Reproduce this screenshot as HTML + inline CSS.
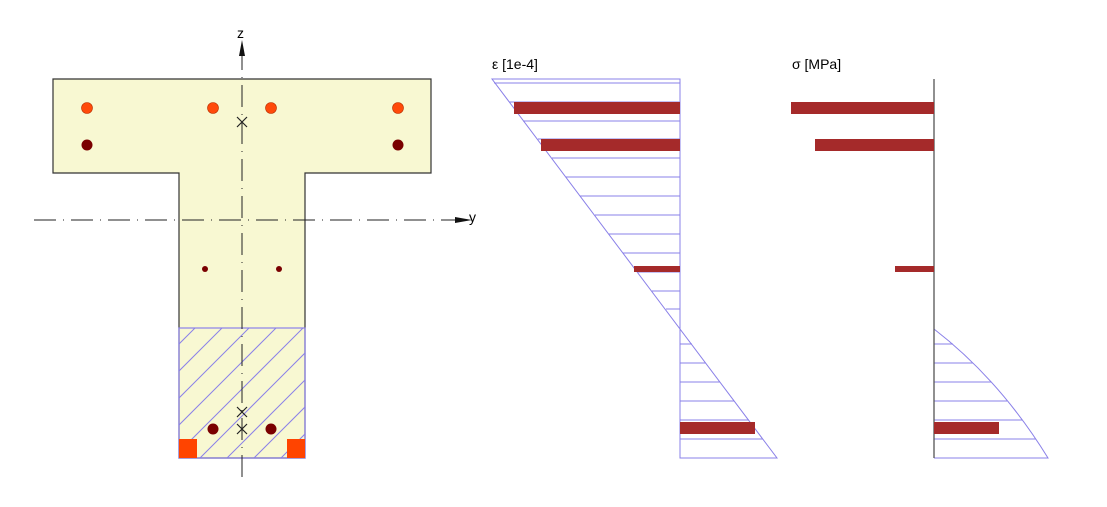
<!DOCTYPE html>
<html><head><meta charset="utf-8"><style>
html,body{margin:0;padding:0;background:#fff;}
svg{display:block;}
text{font-family:"Liberation Sans",sans-serif;}
</style></head><body>
<svg width="1107" height="507" viewBox="0 0 1107 507" xmlns="http://www.w3.org/2000/svg">
<defs><clipPath id="hc"><rect x="179" y="328" width="126" height="130"/></clipPath></defs>
<!-- section -->
<path d="M53 79 H431 V173 H305 V458 H179 V173 H53 Z" fill="#f8f8d2" stroke="#333" stroke-width="1.2"/>
<g clip-path="url(#hc)" stroke="#8a80e8" stroke-width="1">
<line x1="169" y1="327" x2="-30" y2="526"/>
<line x1="196" y1="327" x2="-3" y2="526"/>
<line x1="223" y1="327" x2="24" y2="526"/>
<line x1="250" y1="327" x2="51" y2="526"/>
<line x1="277" y1="327" x2="78" y2="526"/>
<line x1="304" y1="327" x2="105" y2="526"/>
<line x1="331" y1="327" x2="132" y2="526"/>
<line x1="358" y1="327" x2="159" y2="526"/>
<line x1="385" y1="327" x2="186" y2="526"/>
<line x1="412" y1="327" x2="213" y2="526"/>
<line x1="439" y1="327" x2="240" y2="526"/>
<line x1="466" y1="327" x2="267" y2="526"/>
</g>
<rect x="179" y="328" width="126" height="130" fill="none" stroke="#8a80e8" stroke-width="1.2"/>
<!-- axes -->
<line x1="242" y1="48" x2="242" y2="477" stroke="#222" stroke-width="1" stroke-dasharray="22,7,1,7"/>
<polygon points="242,40 239,56 245,56" fill="#111"/>
<text x="237" y="38" font-size="14">z</text>
<line x1="34" y1="220" x2="458" y2="220" stroke="#222" stroke-width="1" stroke-dasharray="22,7,1,7"/>
<polygon points="472,220 455,217 455,223" fill="#111"/>
<text x="469" y="222" font-size="14">y</text>
<!-- x marks -->
<g stroke="#222" stroke-width="1.2">
<path d="M237 117 L247 127 M247 117 L237 127"/>
<path d="M237 407 L247 417 M247 407 L237 417"/>
<path d="M237 424 L247 434 M247 424 L237 434"/>
</g>
<!-- bars -->
<g fill="#ff4a0a" stroke="#b83000" stroke-width="0.6">
<circle cx="87" cy="108" r="5.5"/><circle cx="213" cy="108" r="5.5"/><circle cx="271" cy="108" r="5.5"/><circle cx="398" cy="108" r="5.5"/>
</g>
<g fill="#7a0000">
<circle cx="87" cy="145" r="5.5"/><circle cx="398" cy="145" r="5.5"/>
<circle cx="205" cy="269" r="3"/><circle cx="279" cy="269" r="3"/>
<circle cx="213" cy="429" r="5.5"/><circle cx="271" cy="429" r="5.5"/>
</g>
<rect x="179" y="439" width="18" height="19" fill="#ff4400"/>
<rect x="287" y="439" width="18" height="19" fill="#ff4400"/>
<!-- strain -->
<text x="492" y="69" font-size="14">ε [1e-4]</text>
<g stroke="#8a80e8" stroke-width="1" fill="none">
<polygon points="680,79 492,79 777,458 680,458"/>
<line x1="680" y1="79" x2="680" y2="458"/>
<line x1="494" y1="83" x2="680" y2="83"/>
<line x1="509" y1="102" x2="680" y2="102"/>
<line x1="523" y1="121" x2="680" y2="121"/>
<line x1="538" y1="139" x2="680" y2="139"/>
<line x1="552" y1="158" x2="680" y2="158"/>
<line x1="566" y1="177" x2="680" y2="177"/>
<line x1="580" y1="196" x2="680" y2="196"/>
<line x1="595" y1="215" x2="680" y2="215"/>
<line x1="609" y1="234" x2="680" y2="234"/>
<line x1="623" y1="253" x2="680" y2="253"/>
<line x1="638" y1="272" x2="680" y2="272"/>
<line x1="652" y1="291" x2="680" y2="291"/>
<line x1="666" y1="309" x2="680" y2="309"/>
<line x1="680" y1="344" x2="692" y2="344"/>
<line x1="680" y1="363" x2="706" y2="363"/>
<line x1="680" y1="382" x2="720" y2="382"/>
<line x1="680" y1="401" x2="734" y2="401"/>
<line x1="680" y1="420" x2="749" y2="420"/>
<line x1="680" y1="439" x2="763" y2="439"/>
</g>
<g fill="#a52a2a">
<rect x="514" y="102" width="166" height="12"/>
<rect x="541" y="139" width="139" height="12"/>
<rect x="634" y="266" width="46" height="6"/>
<rect x="680" y="422" width="75" height="12"/>
</g>
<!-- stress -->
<text x="792" y="69" font-size="14">σ [MPa]</text>
<g stroke="#8a80e8" stroke-width="1" fill="none">
<path d="M934 329 Q1000 380 1048 458 L934 458"/>
<line x1="934" y1="344" x2="953" y2="344"/>
<line x1="934" y1="363" x2="973" y2="363"/>
<line x1="934" y1="382" x2="991" y2="382"/>
<line x1="934" y1="401" x2="1007" y2="401"/>
<line x1="934" y1="420" x2="1022" y2="420"/>
<line x1="934" y1="439" x2="1036" y2="439"/>
</g>
<line x1="934" y1="79" x2="934" y2="458" stroke="#555" stroke-width="1.3"/>
<g fill="#a52a2a">
<rect x="791" y="102" width="143" height="12"/>
<rect x="815" y="139" width="119" height="12"/>
<rect x="895" y="266" width="39" height="6"/>
<rect x="934" y="422" width="65" height="12"/>
</g>
</svg>
</body></html>
